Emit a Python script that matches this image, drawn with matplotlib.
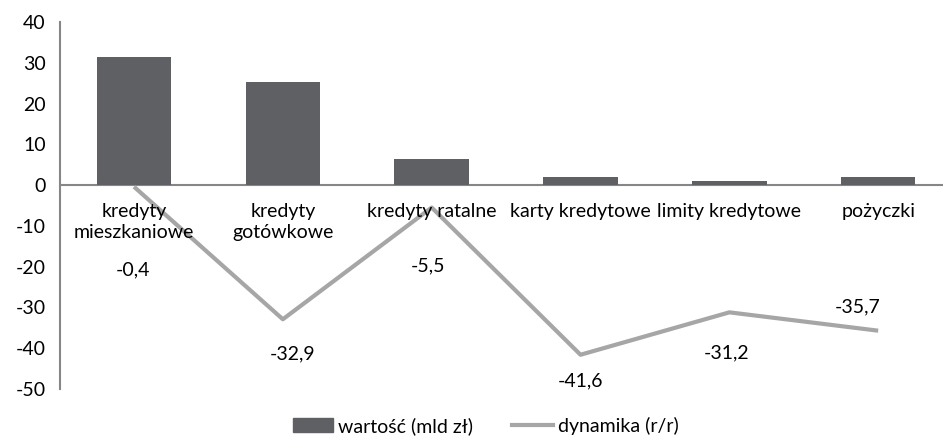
import matplotlib
matplotlib.use("Agg")
import matplotlib.pyplot as plt
from matplotlib.patches import Patch
from matplotlib.lines import Line2D

categories = ["kredyty\nmieszkaniowe", "kredyty\ngotówkowe", "kredyty ratalne",
              "karty kredytowe", "limity kredytowe", "pożyczki"]
wartosc = [31.3, 25.3, 6.3, 1.9, 0.95, 2.1]
dynamika = [-0.4, -32.9, -5.5, -41.6, -31.2, -35.7]
dyn_labels = ["-0,4", "-32,9", "-5,5", "-41,6", "-31,2", "-35,7"]
yticks = [40, 30, 20, 10, 0, -10, -20, -30, -40, -50]

# label offsets (points) relative to the line points
label_off = [(-1, -60), (7, -25), (-3, -42), (0, -19), (-2, -29), (-15, 17)]

plt.rcParams['font.family'] = ['Lato', 'DejaVu Sans']
FS = 14

fig = plt.figure(figsize=(9.43, 4.37), dpi=100)
ax = fig.add_axes([59.6 / 943, 48 / 437, 893 / 943, 367 / 437])

x = list(range(len(categories)))
bar_c = "#5f6063"
line_c = "#a6a6a6"
ax.bar(x, wartosc, width=0.5, color=bar_c, zorder=2)
ax.plot(x, dynamika, color=line_c, lw=3, zorder=3, solid_capstyle='butt')

ax.set_xlim(-0.5, len(categories) - 0.5)
ax.set_ylim(-50, 40)
ax.set_yticks(yticks)
ax.set_yticklabels([str(v) for v in yticks], fontsize=FS)
ax.tick_params(axis='y', length=0, pad=10)
ax.set_xticks([])

for s in ["top", "right", "bottom"]:
    ax.spines[s].set_visible(False)
ax.spines["left"].set_color("#868686")
ax.spines["left"].set_linewidth(1.5)
ax.axhline(0, color="#868686", lw=1.5, zorder=1)

for i, c in enumerate(categories):
    ax.annotate(c, (i, 0), xytext=(0, -13), textcoords="offset points",
                ha="center", va="top", fontsize=FS, linespacing=1.25)

for i, (v, lab) in enumerate(zip(dynamika, dyn_labels)):
    ax.annotate(lab, (i, v), xytext=label_off[i], textcoords="offset points",
                ha="center", va="center", fontsize=FS)

handles = [Patch(color=bar_c, label="wartość (mld zł)"),
           Line2D([0], [0], color=line_c, lw=3, label="dynamika (r/r)")]
fig.legend(handles=handles, loc="center", bbox_to_anchor=(0.515, 1 - 426 / 437),
           ncol=2, frameon=False, fontsize=FS, handlelength=2.1,
           handleheight=0.7, handletextpad=0.25, columnspacing=2.0)

fig.savefig("out.png", dpi=100)
